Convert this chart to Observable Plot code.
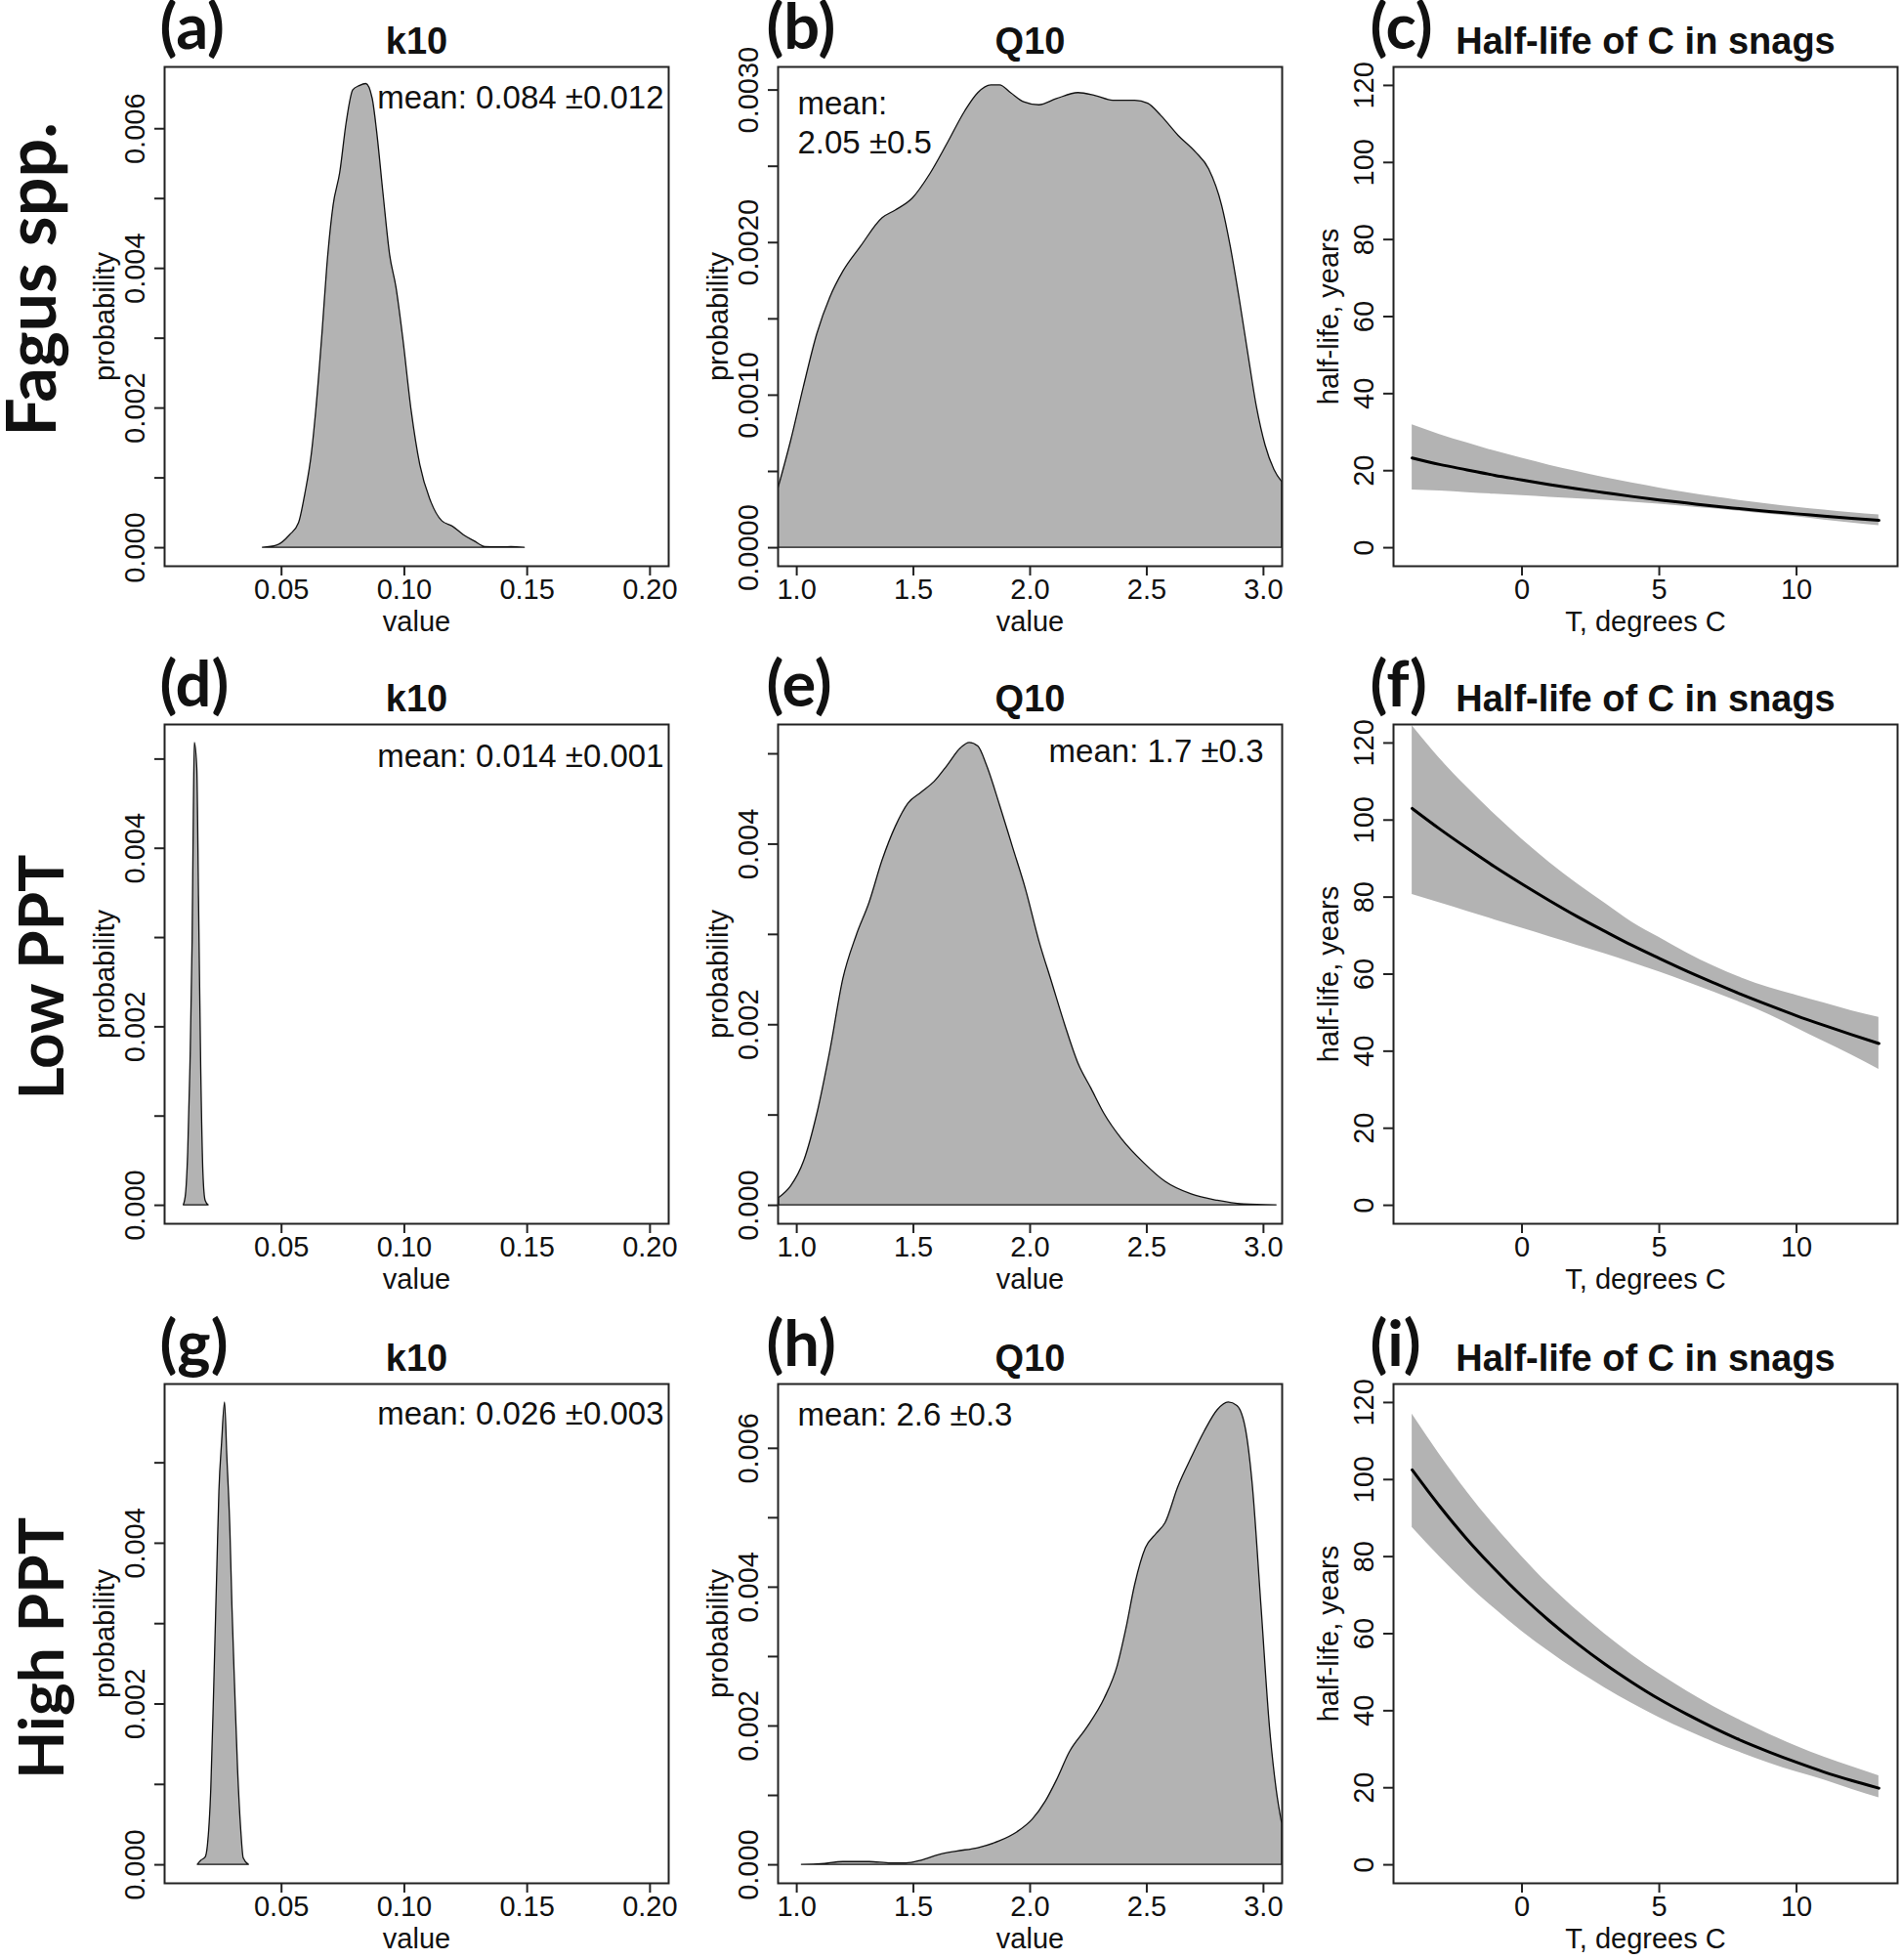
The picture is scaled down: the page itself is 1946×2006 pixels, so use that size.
<!DOCTYPE html>
<html><head><meta charset="utf-8">
<script src="https://cdn.jsdelivr.net/npm/d3@7"></script>
<script src="https://cdn.jsdelivr.net/npm/@observablehq/plot@0.6"></script>
<style>
html,body{margin:0;padding:0;background:#fff;}
#root{position:relative;width:1946px;height:2006px;overflow:hidden;background:#fff;}
#root svg{position:absolute;overflow:visible;}
</style></head><body><div id="root"></div>
<script>
// ---------- tick values and labels ----------
const kXTicks = [0.05, 0.10, 0.15, 0.20];
const kXLabels = ["0.05", "0.10", "0.15", "0.20"];
const qXTicks = [1.0, 1.5, 2.0, 2.5, 3.0];
const qXLabels = ["1.0", "1.5", "2.0", "2.5", "3.0"];
const tXTicks = [0, 5, 10];
const tXLabels = ["0", "5", "10"];
const hlYTicks = [0, 20, 40, 60, 80, 100, 120];
const hlYLabels = ["0", "20", "40", "60", "80", "100", "120"];
const p6Ticks = [0, 0.001, 0.002, 0.003, 0.004, 0.005, 0.006];
const p6Labels = ["0.000", "", "0.002", "", "0.004", "", "0.006"];
const p5Ticks = [0, 0.001, 0.002, 0.003, 0.004, 0.005];
const p5Labels = ["0.000", "", "0.002", "", "0.004", ""];
const p3Ticks = [0, 0.0005, 0.001, 0.0015, 0.002, 0.0025, 0.003];
const p3Labels = ["0.0000", "", "0.0010", "", "0.0020", "", "0.0030"];

// ---------- text ----------
const panelTags = ["(a)", "(b)", "(c)", "(d)", "(e)", "(f)", "(g)", "(h)", "(i)"];
const rowNames = ["Fagus spp.", "Low PPT", "High PPT"];
const colTitles = ["k10", "Q10", "Half-life of C in snags"];
const meanTexts = ["mean: 0.084 ±0.012", "mean:\n2.05 ±0.5", "mean: 0.014 ±0.001", "mean: 1.7 ±0.3", "mean: 0.026 ±0.003", "mean: 2.6 ±0.3"];

// ---------- density curves (value, probability) ----------
const aX = [0.0424,0.0482,0.0535,0.0571,0.0597,0.0624,0.0641,0.0668,0.0686,0.0712,0.0739,0.0765,0.0792,0.0818,0.0845,0.0871,0.0889,0.0915,0.0942,0.0968,0.0995,0.103,0.1065,0.111,0.1154,0.1198,0.1242,0.1286,0.133,0.140,0.1436,0.149];
const aY = [0,0.00003,0.00018,0.00035,0.00077,0.00136,0.00195,0.00313,0.00401,0.0049,0.00537,0.00608,0.00655,0.00661,0.00664,0.00643,0.00596,0.00507,0.00419,0.00372,0.00301,0.00195,0.00118,0.00065,0.00038,0.0003,0.00018,0.00009,0.00001,0.000005,0.00001,0];

const bX = [0.92,0.976,1.03,1.088,1.144,1.2,1.274,1.368,1.424,1.498,1.573,1.647,1.722,1.778,1.834,1.871,1.918,1.974,2.039,2.114,2.207,2.282,2.356,2.45,2.506,2.562,2.636,2.711,2.767,2.823,2.86,2.897,2.935,2.972,3.009,3.047,3.08];
const bY = [0.00038,0.0007,0.00105,0.0014,0.00164,0.00181,0.00197,0.00216,0.00221,0.00229,0.00245,0.00265,0.00286,0.00298,0.00303,0.00303,0.00298,0.00292,0.0029,0.00294,0.00298,0.00296,0.00293,0.00293,0.00291,0.00283,0.0027,0.00259,0.00248,0.00224,0.00197,0.00164,0.00127,0.00092,0.00067,0.00051,0.00043];

const dX = [0.0102,0.0111,0.0120,0.0129,0.0138,0.0143,0.0147,0.0157,0.0164,0.0173,0.0182,0.0191,0.0203];
const dY = [0,0.00012,0.00059,0.00154,0.00296,0.00438,0.00518,0.0049,0.00344,0.00154,0.00036,0.00005,0];

const eX = [0.924,0.976,1.032,1.088,1.144,1.2,1.256,1.312,1.368,1.424,1.479,1.535,1.591,1.647,1.703,1.741,1.778,1.815,1.871,1.927,1.983,2.039,2.095,2.151,2.207,2.263,2.319,2.394,2.487,2.58,2.692,2.804,2.916,3.056];
const eY = [0.00008,0.00021,0.00049,0.00101,0.00171,0.00251,0.00298,0.00335,0.00382,0.00419,0.00445,0.00457,0.00469,0.00487,0.00506,0.00512,0.00508,0.00487,0.00443,0.00396,0.00349,0.00293,0.00246,0.00199,0.00157,0.00129,0.00101,0.00073,0.00047,0.00026,0.00012,0.00005,0.00001,0];

const gX = [0.0159,0.0173,0.0191,0.020,0.0214,0.0226,0.0239,0.0247,0.0258,0.027,0.0279,0.0292,0.030,0.0311,0.0323,0.0336,0.0346,0.0367];
const gY = [0,0.00005,0.00009,0.00023,0.00094,0.00221,0.00373,0.00464,0.00525,0.00575,0.0051,0.00414,0.00322,0.00221,0.00119,0.00043,0.00008,0];

const hX = [1.022,1.106,1.2,1.312,1.405,1.47,1.535,1.61,1.685,1.778,1.871,1.946,2.011,2.067,2.114,2.17,2.244,2.319,2.375,2.412,2.45,2.496,2.543,2.58,2.636,2.692,2.748,2.804,2.851,2.888,2.925,2.953,2.991,3.028,3.056,3.08];
const hY = [0,0.00001,0.00004,0.00004,0.00002,0.00002,0.00006,0.00014,0.00019,0.00024,0.00034,0.00047,0.00065,0.00091,0.00121,0.00162,0.00197,0.00239,0.00286,0.00339,0.00403,0.00456,0.00477,0.00492,0.00545,0.00586,0.00624,0.00655,0.00666,0.00661,0.00627,0.00551,0.00374,0.00197,0.00109,0.00059];

// ---------- half-life vs temperature ----------
const temps = [-4,-3,-2,-1,0,1,2,3,4,5,6,7,8,9,10,11,12,13];
const cMid = [23.3,21.6,20.2,18.8,17.6,16.4,15.3,14.3,13.3,12.4,11.6,10.8,10.1,9.4,8.8,8.2,7.6,7.1];
const cHi  = [31.9,29.4,27.2,25.1,23.2,21.4,19.8,18.2,16.8,15.5,14.3,13.2,12.2,11.3,10.5,9.8,9.1,8.5];
const cLo  = [15.0,14.7,14.3,13.9,13.5,13.1,12.7,12.3,11.8,11.3,10.7,10.1,9.4,8.7,8.0,7.2,6.4,5.7];
const fMid = [103,97.7,92.7,87.9,83.4,79.1,75.0,71.2,67.5,64.1,60.8,57.7,54.7,51.9,49.2,46.7,44.3,42.0];
const fHi  = [124.5,116,108.5,101.5,95,89,83.5,78.5,73.5,69.5,65.5,62,59,56.5,54.5,52.5,50.5,48.8];
const fLo  = [80.7,78.5,76.3,74.1,71.9,69.7,67.5,65.3,63.0,60.6,58.0,55.3,52.5,49.5,46.0,42.5,39.0,35.3];
const iMid = [102.5,93.1,84.5,76.8,69.7,63.3,57.5,52.2,47.4,43.0,39.1,35.5,32.2,29.3,26.6,24.1,21.9,19.9];
const iHi  = [117.0,106.5,96.8,88.0,80.0,72.6,66.0,60.0,54.5,49.6,45.1,41.0,37.3,33.9,30.8,28.0,25.5,23.1];
const iLo  = [87.6,80.0,72.9,66.5,60.6,55.3,50.4,46.0,41.9,38.2,34.9,31.8,29.0,26.4,24.1,22.0,19.6,17.4];

// ---------- layout ----------
const FW = 516, FH = 511;
const colLeft = [168, 796, 1426];
const rowTop = [68, 741, 1416];
const tagDx = [-5, -12, -24];
const meanPos = [ // [anchor, dx, dy, textAnchor]
  ["top-right", -5, 30, "end"], ["top-left", 20, 56, "start"],
  ["top-right", -5, 31, "end"], ["top-right", -19, 26, "end"],
  ["top-right", -5, 29, "end"], ["top-left", 20, 30, "start"]
];
const rowLabel = [ // [baseline x (abs), dy from frame centre, font size]
  [56, -38, 70], [64, 3, 64], [64, 15, 64]
];

const GRAY = "#b3b3b3", INK = "#111";
const SANS = "'Liberation Sans', Arial, Helvetica, sans-serif";
const BOLDFACE = "Lato, 'Open Sans', sans-serif";
const fmtFrom = (ticks, labels) => d => { const i = ticks.findIndex(t => Math.abs(t - d) < 1e-9); return i < 0 ? "" : labels[i]; };
const zip = (X, Y) => X.map((x, i) => ({x, y: Y[i]}));
const band = (lo, mid, hi) => temps.map((t, i) => ({t, lo: lo[i], mid: mid[i], hi: hi[i]}));
const ext = (a, b) => [a - 0.04 * (b - a), b + 0.04 * (b - a)];

const densityPanels = [
  {row: 0, col: 0, data: zip(aX, aY), xd: ext(0.01, 0.2), yd: ext(0, 0.00662), xt: [kXTicks, kXLabels], yt: [p6Ticks, p6Labels], mean: 0},
  {row: 0, col: 1, data: zip(bX, bY), xd: ext(1, 3), yd: ext(0, 0.00303), xt: [qXTicks, qXLabels], yt: [p3Ticks, p3Labels], mean: 1},
  {row: 1, col: 0, data: zip(dX, dY), xd: ext(0.01, 0.2), yd: ext(0, 0.00518), xt: [kXTicks, kXLabels], yt: [p5Ticks, p5Labels], mean: 2},
  {row: 1, col: 1, data: zip(eX, eY), xd: ext(1, 3), yd: ext(0, 0.00512), xt: [qXTicks, qXLabels], yt: [p5Ticks, p5Labels], mean: 3},
  {row: 2, col: 0, data: zip(gX, gY), xd: ext(0.01, 0.2), yd: ext(0, 0.00575), xt: [kXTicks, kXLabels], yt: [p5Ticks, p5Labels], mean: 4},
  {row: 2, col: 1, data: zip(hX, hY), xd: ext(1, 3), yd: ext(0, 0.00666), xt: [qXTicks, qXLabels], yt: [p6Ticks, p6Labels], mean: 5}
];
const halfPanels = [
  {row: 0, col: 2, data: band(cLo, cMid, cHi)},
  {row: 1, col: 2, data: band(fLo, fMid, fHi)},
  {row: 2, col: 2, data: band(iLo, iMid, iHi)}
];

const root = document.getElementById("root");
const ML = 140, MR = 4, MT = 80, MB = 90;

function commonMarks(p, xlab, ylab, xt, yt) {
  const marks = [
    Plot.frame({stroke: "#222", strokeWidth: 2}),
    Plot.axisX({ticks: xt[0], tickFormat: fmtFrom(xt[0], xt[1]), tickSize: 10, tickPadding: 3, fontSize: 29, label: null, strokeWidth: 2, stroke: "#222"}),
    Plot.axisY({ticks: yt[0], tickFormat: fmtFrom(yt[0], yt[1]), tickSize: 10, tickPadding: 11, tickRotate: -90, fontSize: 29, label: null, strokeWidth: 2, stroke: "#222"}),
    Plot.text([xlab], {frameAnchor: "bottom", dy: 57, fontSize: 29, textAnchor: "middle", lineAnchor: "middle", fill: INK}),
    Plot.text([ylab], {frameAnchor: "left", dx: p.col === 2 ? -66 : -61, rotate: -90, fontSize: 29, textAnchor: "middle", lineAnchor: "middle", fill: INK}),
    Plot.text([colTitles[p.col]], {frameAnchor: "top", dy: -26, fontSize: 38, fontWeight: "bold", textAnchor: "middle", lineAnchor: "middle", fill: INK}),
    Plot.text([panelTags[p.row * 3 + p.col]], {frameAnchor: "top-left", dx: tagDx[p.col], dy: -19, textAnchor: "start", lineAnchor: "bottom", fontFamily: BOLDFACE, fontWeight: 700, fontSize: 65, fill: INK})
  ];
  if (p.col === 0) {
    const [bx, dy, fs] = rowLabel[p.row];
    marks.push(Plot.text([rowNames[p.row]], {frameAnchor: "left", dx: bx - colLeft[0], dy, rotate: -90, lineAnchor: "bottom", textAnchor: "middle", fontFamily: BOLDFACE, fontWeight: 700, fontSize: fs, fill: INK}));
  }
  return marks;
}

function place(svg, p) {
  svg.style.left = (colLeft[p.col] - ML) + "px";
  svg.style.top = (rowTop[p.row] - MT) + "px";
  root.appendChild(svg);
}

const plotBase = {
  width: ML + FW + MR, height: MT + FH + MB,
  marginLeft: ML, marginRight: MR, marginTop: MT, marginBottom: MB,
  style: {fontFamily: SANS, color: INK, background: "transparent", overflow: "visible"}
};

for (const p of densityPanels) {
  const mp = meanPos[p.mean];
  const svg = Plot.plot({
    ...plotBase,
    x: {domain: p.xd, nice: false},
    y: {domain: p.yd, nice: false},
    marks: [
      Plot.areaY(p.data, {x: "x", y: "y", fill: GRAY, stroke: "#111", strokeWidth: 1.3, curve: "monotone-x", clip: true}),
      ...commonMarks(p, "value", "probability", p.xt, p.yt),
      Plot.text([meanTexts[p.mean]], {frameAnchor: mp[0], dx: mp[1], dy: mp[2], textAnchor: mp[3], lineAnchor: "middle", lineHeight: 1.19, fontSize: 33, fill: INK})
    ]
  });
  place(svg, p);
}

for (const p of halfPanels) {
  const svg = Plot.plot({
    ...plotBase,
    x: {domain: ext(-4, 13), nice: false},
    y: {domain: ext(0, 120), nice: false},
    marks: [
      Plot.areaY(p.data, {x: "t", y1: "lo", y2: "hi", fill: GRAY, curve: "monotone-x", clip: true}),
      Plot.line(p.data, {x: "t", y: "mid", stroke: "#000", strokeWidth: 3, curve: "monotone-x", clip: true}),
      ...commonMarks(p, "T, degrees C", "half-life, years", [tXTicks, tXLabels], [hlYTicks, hlYLabels])
    ]
  });
  place(svg, p);
}
</script></body></html>
